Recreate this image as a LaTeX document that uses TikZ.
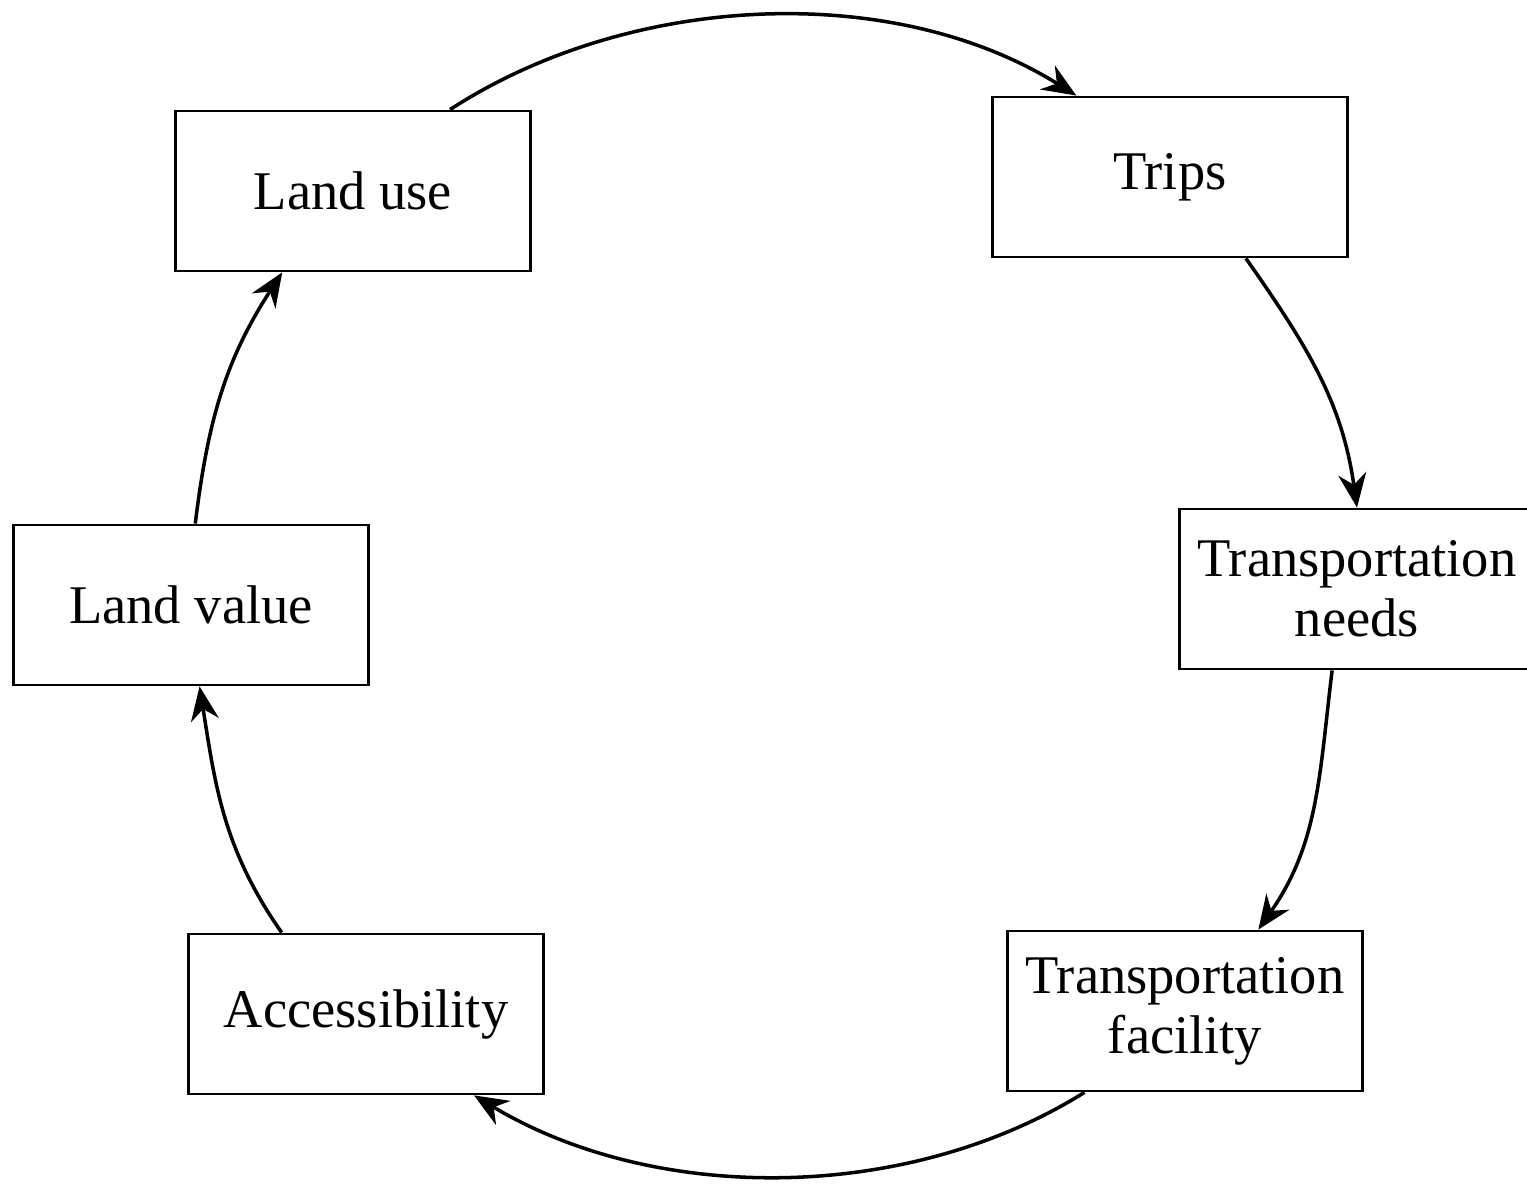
\documentclass[tikz,border=0pt]{standalone}
\usepackage{fontspec}
\setmainfont{Liberation Serif}
\usetikzlibrary{arrows.meta}
\begin{document}
\begin{tikzpicture}[box/.style = {draw, line width=0.8pt, minimum width=3.55cm, minimum height=1.6cm,
                        align=center, font=\fontsize{15.5pt}{17pt}\selectfont},
                    link/.style = {line width=1pt, -{Stealth[length=3.4mm, width=2.8mm]}}]
            \useasboundingbox (0,0) rectangle (15.27,11.84);
            \node[box] (landuse) at (3.53,9.93) {Land use};
            \node[box] (trips) at (11.70,10.07) {Trips};
            \node[box] (needs) at (13.57,5.95) {Transportation\\needs};
            \node[box] (facility) at (11.85,1.73) {Transportation\\facility};
            \node[box] (access) at (3.66,1.70) {Accessibility};
            \node[box] (value) at (1.91,5.79) {Land value};
            \draw[link] (landuse.40) to[out=33, in=148, looseness=0.88] (trips.139);
            \draw[link] (trips.-47) to[out=-55, in=98] (needs.north);
            \draw[link] (needs.-107) to[out=-97, in=55] (facility.48);
            \draw[link] (facility.-141) to[out=-148, in=-31, looseness=0.88] (access.-37);
            \draw[link] (access.136) to[out=125, in=-81] (value.-84);
            \draw[link] (value.87) to[out=83, in=237] (landuse.-131);
        \end{tikzpicture}
\end{document}
